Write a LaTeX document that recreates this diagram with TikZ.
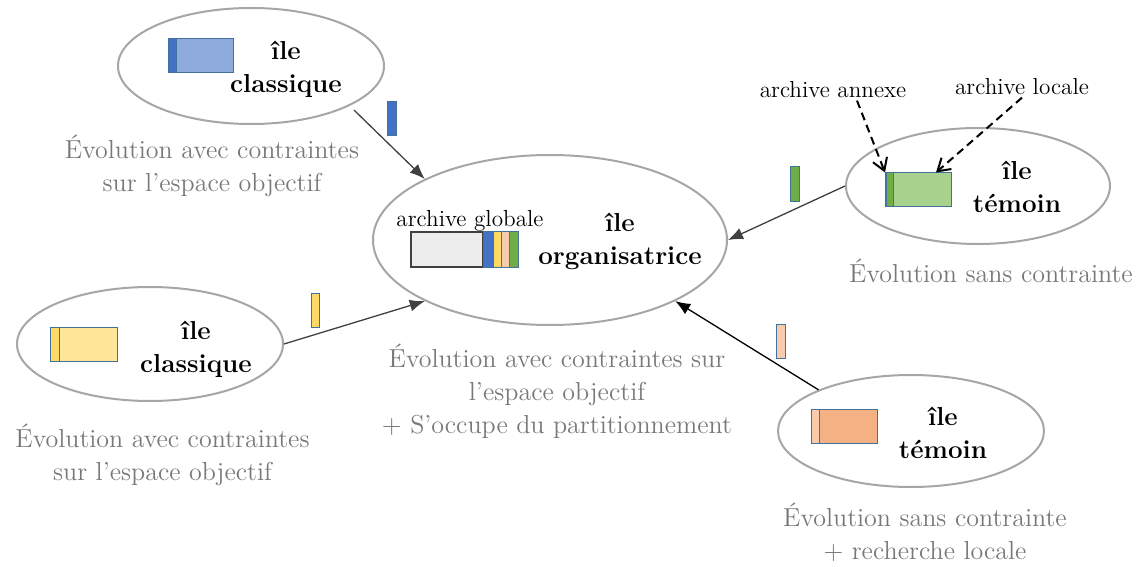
\documentclass[tikz,border=0pt]{standalone}
\usetikzlibrary{shapes.geometric,arrows.meta}
\definecolor{txtgray}{HTML}{787878}
\definecolor{ellgray}{HTML}{A6A6A6}
\definecolor{arrgray}{HTML}{404040}
\definecolor{boxblue}{HTML}{41719C}
\definecolor{blueD}{HTML}{4472C4}
\definecolor{blueL}{HTML}{8FAADC}
\definecolor{yelD}{HTML}{FFD966}
\definecolor{yelL}{HTML}{FFE699}
\definecolor{grnD}{HTML}{70AD47}
\definecolor{grnL}{HTML}{A9D18E}
\definecolor{orgL}{HTML}{F8CBAD}
\definecolor{orgD}{HTML}{F4B183}
\definecolor{archgray}{HTML}{EDEDED}
\begin{document}
\begin{tikzpicture}[x=0.5pt,y=-0.5pt,
  isle/.style={ellipse,draw=ellgray,line width=1pt,inner sep=0pt},
  islelabel/.style={font=\fontsize{13}{16.5}\selectfont\bfseries,align=center,inner sep=0pt},
  desc/.style={font=\fontsize{13}{16.5}\selectfont,text=txtgray,align=center,inner sep=0pt},
  smalllabel/.style={font=\fontsize{11.6}{14}\selectfont,inner sep=1pt},
  flow/.style={draw=arrgray,line width=0.65pt,-{Latex[length=7.5pt,width=6pt]}},
  pointer/.style={draw=black,line width=1pt,dash pattern=on 4pt off 2.5pt,-{Straight Barb[length=6pt,width=7.5pt]}},
  boxline/.style={draw=boxblue,line width=0.5pt}]
\useasboundingbox (0,0) rectangle (1147,567);

% islands
\node[isle,minimum width=133pt,minimum height=58pt] (e1) at (251,66) {};
\node[isle,minimum width=177pt,minimum height=85pt] (e2) at (550,240) {};
\node[isle,minimum width=132pt,minimum height=58pt] (e3) at (978,186) {};
\node[isle,minimum width=133pt,minimum height=57pt] (e4) at (150,344) {};
\node[isle,minimum width=133pt,minimum height=56pt] (e5) at (911,431) {};

% island labels
\node[islelabel] (l1) at (286,69) {île\\classique};
\node[islelabel] (l2) at (620,241) {île\\organisatrice};
\node[islelabel] (l3) at (1017,186.5) {île\\témoin};
\node[islelabel] (l4) at (196,349) {île\\classique};
\node[islelabel] (l5) at (943,433) {île\\témoin};

% descriptions
\node[desc] (d1) at (212,165.4) {Évolution avec contraintes\\sur l’espace objectif};
\node[desc,anchor=base] (d2) at (991,282) {Évolution sans contrainte};
\node[desc] (d3) at (557,391) {Évolution avec contraintes sur\\l’espace objectif\\+ S’occupe du partitionnement};
\node[desc] (d4) at (162.5,455) {Évolution avec contraintes\\sur l’espace objectif};
\node[desc] (d5) at (925,532) {Évolution sans contrainte\\+ recherche locale};

% archives in islands
\filldraw[boxline,fill=blueL] (168,39) rectangle (233,73);
\filldraw[boxline,fill=blueD] (168,39) rectangle (176,73);

\filldraw[boxline,fill=yelL] (50,327) rectangle (117,361);
\filldraw[boxline,fill=yelD] (50,327) rectangle (59,361);

\node[boxline,fill=grnL,minimum width=33pt,minimum height=17pt,inner sep=0pt] (gbox) at (918.5,190) {};
\filldraw[boxline,fill=grnD] (886,173) rectangle (893,207);

\filldraw[boxline,fill=orgD] (811,409) rectangle (877,443);
\filldraw[boxline,fill=orgL] (811,409) rectangle (819,443);

% global archive
\filldraw[draw=arrgray,line width=0.6pt,fill=archgray] (411,232) rectangle (483,267);
\filldraw[boxline,fill=blueD] (483,232) rectangle (493,267);
\filldraw[boxline,fill=yelD] (493,232) rectangle (501,267);
\filldraw[boxline,fill=orgL] (501,232) rectangle (509,267);
\filldraw[boxline,fill=grnD] (509,232) rectangle (518,267);
\node[smalllabel,anchor=base] (glob) at (470,227) {archive globale};

% migrating archives
\filldraw[boxline,fill=blueD] (387,102) rectangle (396,136);
\filldraw[boxline,fill=yelD] (311,293) rectangle (319,327);
\filldraw[boxline,fill=grnD] (790,167) rectangle (799,202);
\filldraw[boxline,fill=orgL] (776,324) rectangle (785,358);

% labels for témoin archives
\node[smalllabel,anchor=base] (annexe) at (833,98) {archive annexe};
\node[smalllabel,anchor=base] (locale) at (1022,95) {archive locale};

% connectors
\draw[flow,shorten <=3pt] (e1.-22) -- (e2.154);
\draw[flow] (e4.east) -- (e2.206.7);
\draw[flow] (e3.west) -- (e2.east);
\draw[flow,draw=black] (e5.156.4) -- (e2.-26.2);

\draw[pointer] ([xshift=12pt]annexe.south) -- (gbox.north west);
\draw[pointer] (locale.south) -- (gbox.45);
\end{tikzpicture}
\end{document}
